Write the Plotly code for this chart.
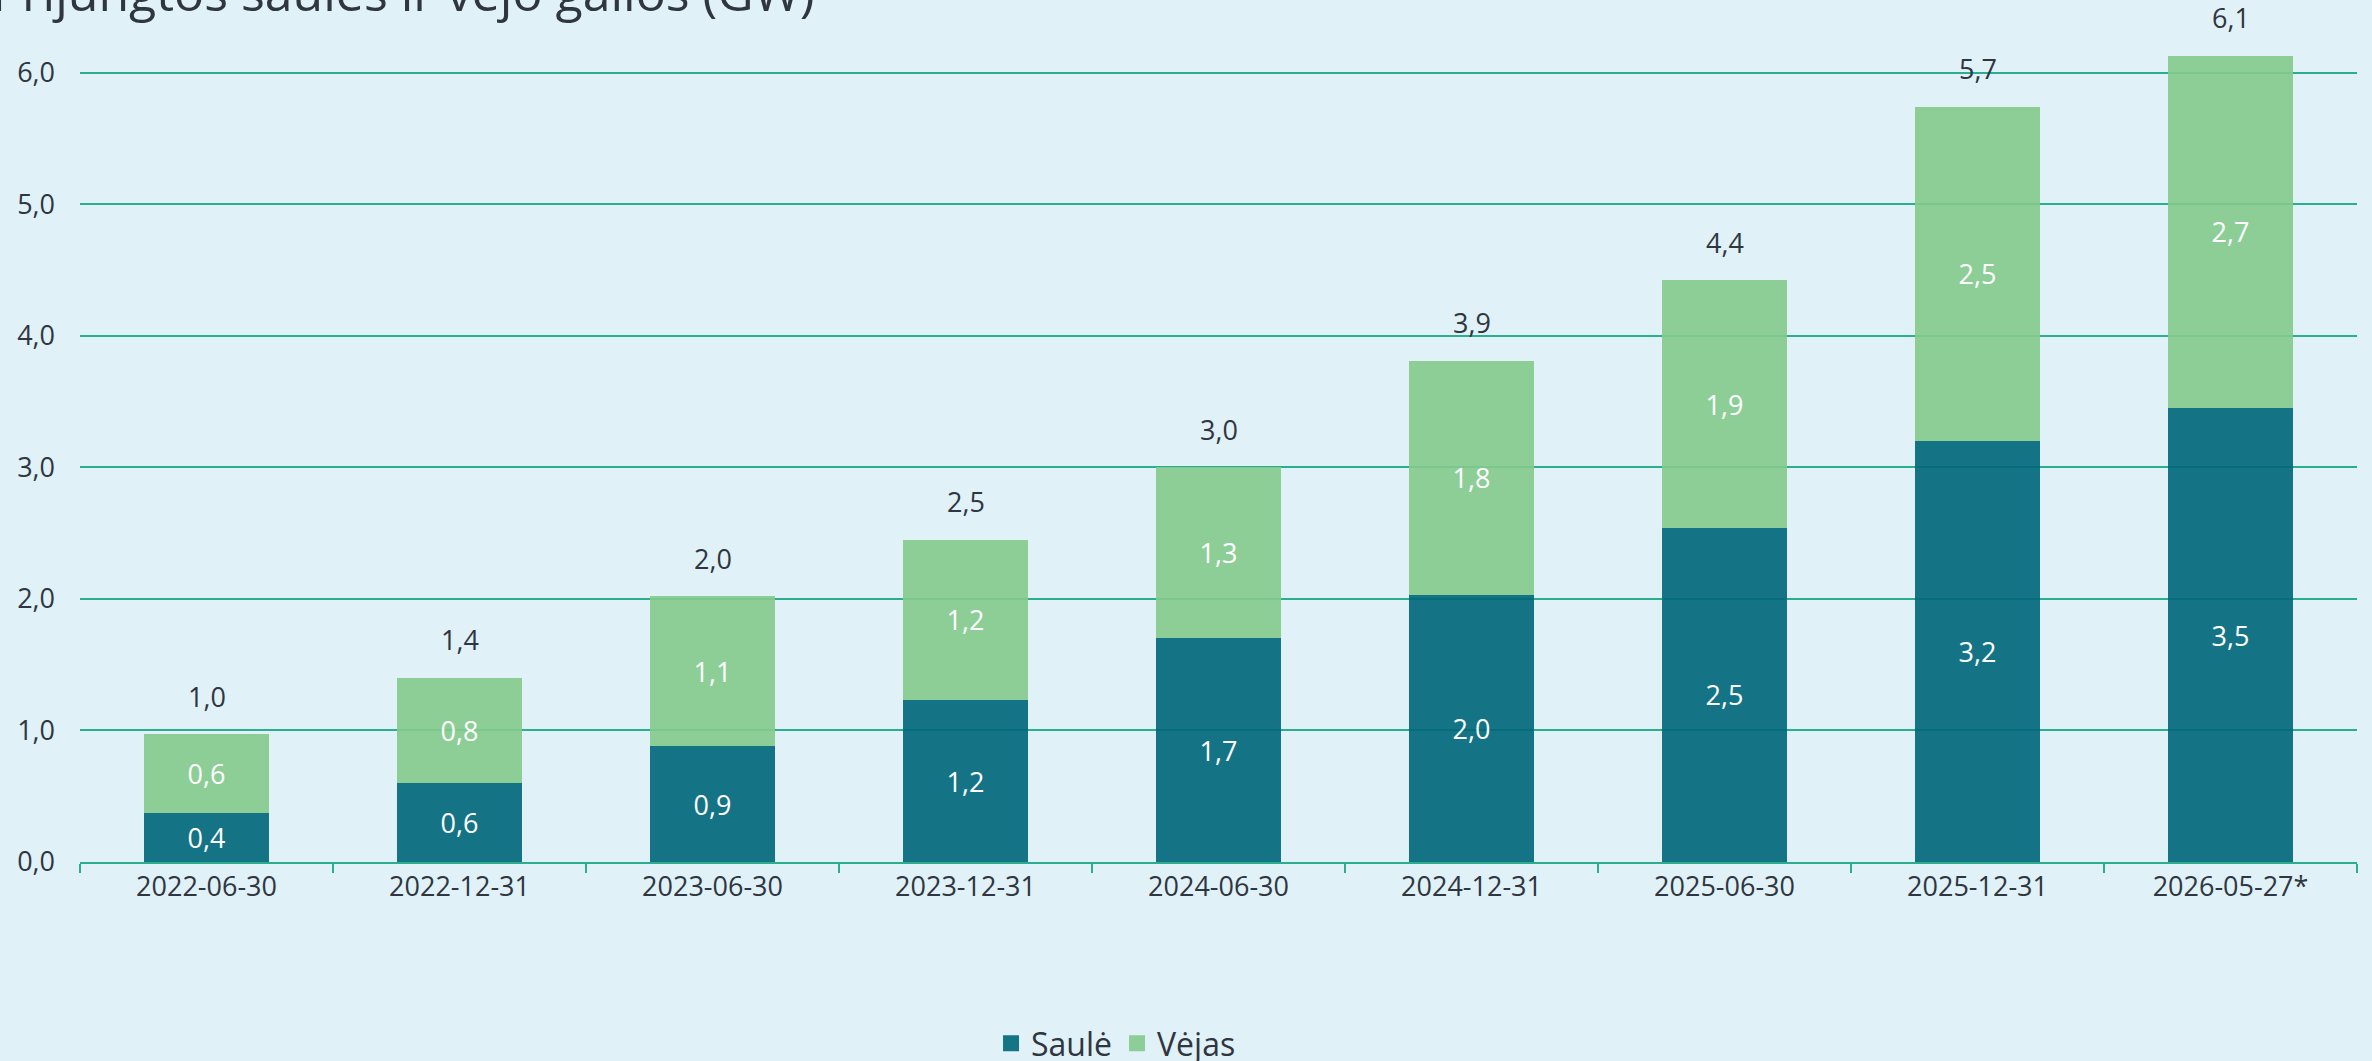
import plotly.graph_objects as go

categories = ["2022-06-30", "2022-12-31", "2023-06-30", "2023-12-31", "2024-06-30",
              "2024-12-31", "2025-06-30", "2025-12-31", "2026-05-27*"]
saule = [0.37, 0.60, 0.88, 1.23, 1.70, 2.03, 2.54, 3.20, 3.45]
vejas = [0.60, 0.80, 1.14, 1.22, 1.30, 1.78, 1.88, 2.54, 2.68]
saule_labels = ["0,4", "0,6", "0,9", "1,2", "1,7", "2,0", "2,5", "3,2", "3,5"]
vejas_labels = ["0,6", "0,8", "1,1", "1,2", "1,3", "1,8", "1,9", "2,5", "2,7"]
total_labels = ["1,0", "1,4", "2,0", "2,5", "3,0", "3,9", "4,4", "5,7", "6,1"]
y_ticks = [0, 1, 2, 3, 4, 5, 6]

BG = "#E0F1F8"
DARK = "rgba(0,102,122,0.91)"
GREEN = "rgba(132,202,141,0.91)"
TXT = "#2F3640"
GRID = "#2AAE8E"
FONT = "Open Sans"
FS = 27

fig = go.Figure()
fig.add_trace(go.Bar(x=categories, y=saule, name="Saulė", marker=dict(color=DARK, line=dict(width=0)),
                     text=saule_labels, textposition="inside", insidetextanchor="middle",
                     textfont=dict(color="white", size=FS, family=FONT), showlegend=False,
                     constraintext="none"))
fig.add_trace(go.Bar(x=categories, y=vejas, name="Vėjas", marker=dict(color=GREEN, line=dict(width=0)),
                     text=vejas_labels, textposition="inside", insidetextanchor="middle",
                     textfont=dict(color="white", size=FS, family=FONT), showlegend=False,
                     constraintext="none"))
# legend proxies
fig.add_trace(go.Scatter(x=[None], y=[None], mode="markers", name="Saulė",
                         marker=dict(symbol="square", size=20, color="#167487")))
fig.add_trace(go.Scatter(x=[None], y=[None], mode="markers", name="Vėjas",
                         marker=dict(symbol="square", size=20, color="#8DCE98")))

for c, s, v, t in zip(categories, saule, vejas, total_labels):
    fig.add_annotation(x=c, y=s + v, text=t, showarrow=False, yanchor="middle", yshift=38,
                       font=dict(size=FS, color=TXT, family=FONT))

fig.add_annotation(xref="paper", yref="paper", x=-0.0395, y=1, xanchor="left", yanchor="bottom",
                   yshift=-8, text="Prijungtos saulės ir vėjo galios (GW)", showarrow=False,
                   font=dict(size=50, color=TXT, family=FONT))

fig.update_layout(
    width=2372, height=1061, barmode="stack", bargap=0.505,
    paper_bgcolor=BG, plot_bgcolor=BG, separators=", ",
    margin=dict(l=80, r=15, t=20, b=198.5, autoexpand=False),
    font=dict(family=FONT, color=TXT, size=FS),
    legend=dict(orientation="h", x=0.455, xanchor="center", y=-0.2154, yanchor="middle",
                font=dict(size=32, color=TXT, family=FONT), itemsizing="trace",
                bgcolor="rgba(0,0,0,0)", traceorder="normal"),
)
fig.update_xaxes(type="category", showline=True, linecolor=GRID, linewidth=2,
                 ticks="outside", tickson="boundaries", ticklen=9, tickcolor=GRID, tickwidth=2,
                 tickfont=dict(size=FS, color=TXT, family=FONT), showgrid=False)
fig.update_yaxes(range=[0, 6.4], tickvals=y_ticks, tickformat=".1f", showgrid=True,
                 gridcolor=GRID, gridwidth=2, zeroline=False, showline=False,
                 tickfont=dict(size=FS, color=TXT, family=FONT), ticklabelstandoff=24)

fig.write_html("out.html", config={"displayModeBar": False},
               post_script="document.body.style.margin='0';document.body.style.background='" + BG + "';")
